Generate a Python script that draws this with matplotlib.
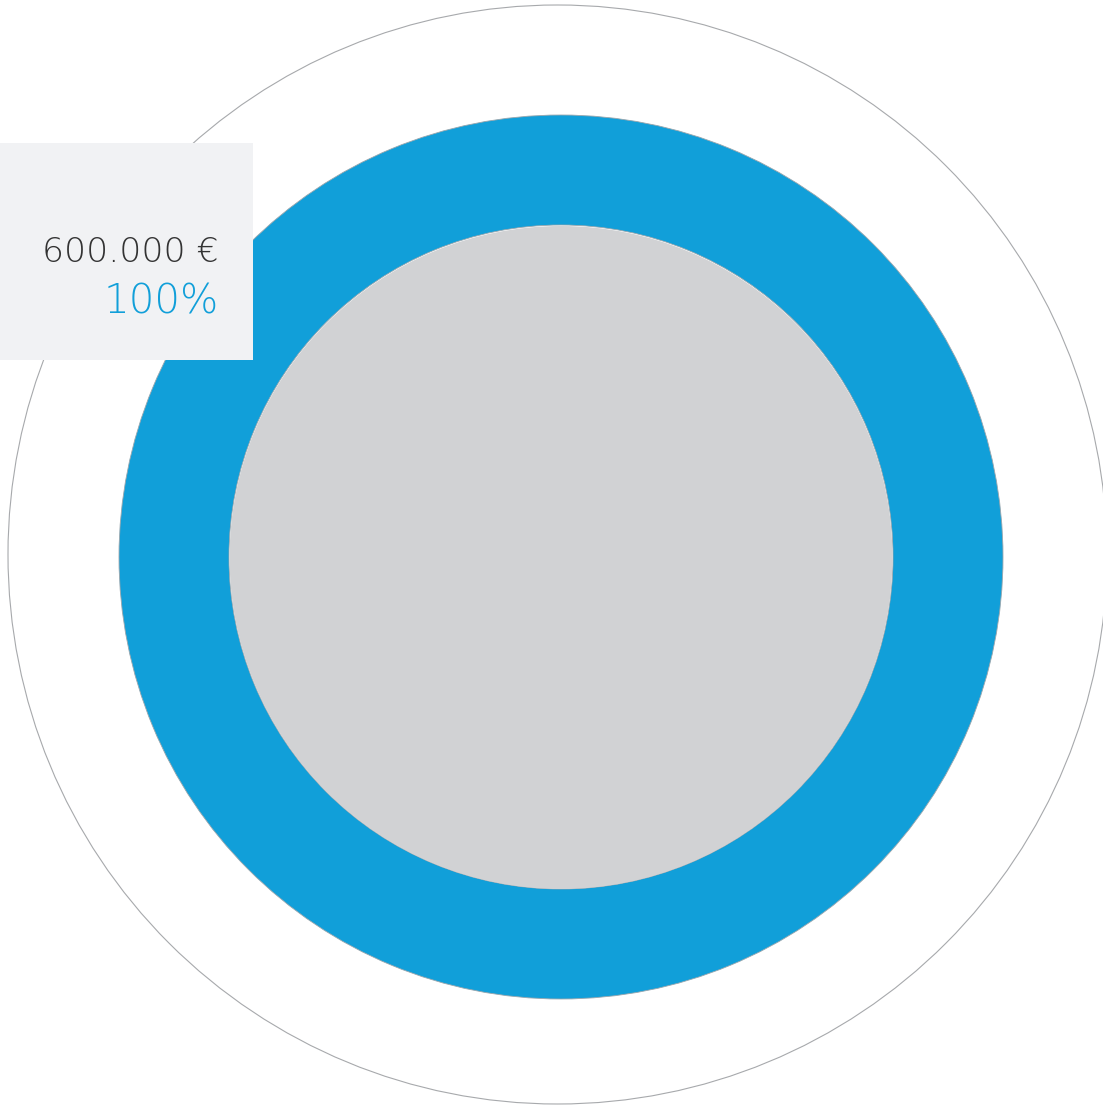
import matplotlib
matplotlib.use("Agg")
import matplotlib.pyplot as plt
from matplotlib.patches import Circle, Rectangle

categories = ["Total"]
values = [600000]
amount_labels = ["600.000 €"]
percent_labels = ["100%"]

W, H = 1103, 1105
fig = plt.figure(figsize=(W / 100, H / 100), dpi=100)
ax = fig.add_axes([0, 0, 1, 1])

# outer thin circle
ax.add_patch(Circle((557.5, 554.5), 549.5, facecolor="none", edgecolor="#a7a9ac", lw=0.8, zorder=1))

# ring from data
ax.pie(values, center=(561, 557), radius=442, startangle=90, counterclock=False,
       colors=["#119fd9"], wedgeprops=dict(width=110, edgecolor="#9aa6ad", linewidth=0.6),
       frame=True)
ax.set_xlim(0, W)
ax.set_ylim(H, 0)
ax.axis("off")

# inner disk
ax.add_patch(Circle((561, 557.5), 331.5, facecolor="#d1d2d4", edgecolor="none", zorder=3))

# label box
ax.add_patch(Rectangle((0, 143), 253, 217, facecolor="#f1f2f4", edgecolor="none", zorder=4))
ax.text(219, 262, amount_labels[0], ha="right", va="baseline", fontsize=24.8,
        family="DejaVu Sans", fontweight=200, color="#333333", zorder=5)
ax.text(219, 313, percent_labels[0], ha="right", va="baseline", fontsize=29,
        family="DejaVu Sans", fontweight=200, color="#119fd9", zorder=5)

fig.savefig("out.png", dpi=100)
